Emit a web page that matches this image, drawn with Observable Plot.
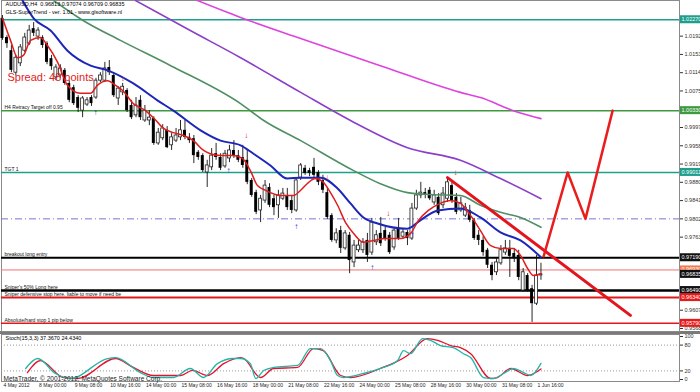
<!DOCTYPE html>
<html><head><meta charset="utf-8">
<script src="https://cdn.jsdelivr.net/npm/d3@7"></script>
<script src="https://cdn.jsdelivr.net/npm/@observablehq/plot@0.6"></script>
<style>
html,body{margin:0;padding:0;background:#fff;}
#wrap{width:700px;height:392px;overflow:hidden;position:relative;background:#fff;}
#main svg,#stoch svg{display:block;}
#stoch{border-top:3px solid #7a7a7a;}
</style></head><body>
<div id="wrap"><div id="main"></div><div id="stoch"></div></div>
<script>
// ---- candles (bar index = position in array; H4 bars from 4 May 2012 16:00) ----
const opens = [1.0230,1.0189,1.0161,1.0114,1.0134,1.0161,1.0176,1.0208,1.0191,1.0189,
1.0176,1.0144,1.0104,1.0108,1.0119,1.0091,1.0082,1.0061,1.0033,1.0046,
1.0061,1.0061,1.0097,1.0097,1.0125,1.0108,1.0059,1.0072,1.0076,1.0044,
1.0023,1.0055,1.0012,1.0012,1.0016,0.9963,0.9974,0.9991,0.9959,0.9969,
0.9976,0.9991,0.9976,0.9973,0.9944,0.9937,0.9901,0.9912,0.9941,0.9933,
0.9914,0.9931,0.9948,0.9937,0.9933,0.9927,0.9884,0.9858,0.9820,0.9841,
0.9869,0.9845,0.9831,0.9845,0.9852,0.9841,0.9820,0.9890,0.9910,0.9905,
0.9912,0.9901,0.9884,0.9858,0.9809,0.9756,0.9777,0.9739,0.9767,0.9709,
0.9735,0.9735,0.9756,0.9730,0.9752,0.9771,0.9777,0.9767,0.9741,0.9781,
0.9764,0.9773,0.9760,0.9824,0.9852,0.9858,0.9863,0.9837,0.9848,0.9831,
0.9845,0.9873,0.9848,0.9820,0.9809,0.9820,0.9799,0.9767,0.9756,0.9735,
0.9703,0.9688,0.9707,0.9730,0.9739,0.9728,0.9724,0.9649,0.9681,0.9653,
0.9621,0.96813];
const closes = [1.0187,1.0176,1.0119,1.0146,1.0168,1.0189,1.0204,1.0198,1.0204,1.0172,
1.0136,1.0127,1.0125,1.0123,1.0091,1.0055,1.0048,1.0038,1.0059,1.0055,
1.0048,1.0097,1.0108,1.0123,1.0114,1.0065,1.0080,1.0084,1.0033,1.0018,
1.0044,1.0018,1.0033,1.0018,0.9963,0.9986,0.9995,0.9954,0.9976,0.9980,
0.9991,0.9976,0.9969,0.9937,0.9933,0.9905,0.9916,0.9937,0.9933,0.9910,
0.9941,0.9948,0.9937,0.9927,0.9916,0.9880,0.9852,0.9816,0.9845,0.9873,
0.9831,0.9826,0.9852,0.9856,0.9826,0.9820,0.9884,0.9916,0.9899,0.9899,
0.9895,0.9880,0.9863,0.9805,0.9756,0.9771,0.9739,0.9771,0.9713,0.9745,
0.9745,0.9752,0.9724,0.9794,0.9767,0.9749,0.9760,0.9730,0.9777,0.9760,
0.9773,0.9760,0.9824,0.9852,0.9858,0.9852,0.9845,0.9852,0.9813,0.9856,
0.9880,0.9841,0.9816,0.9835,0.9826,0.9799,0.9760,0.9756,0.9730,0.9703,
0.9681,0.9709,0.9735,0.9739,0.9722,0.9717,0.9677,0.9688,0.9649,0.9621,
0.9681,0.96835];
const highs = [1.0236,1.0193,1.0172,1.0151,1.0174,1.0198,1.0215,1.0221,1.0210,1.0193,
1.0180,1.0151,1.0131,1.0131,1.0123,1.0097,1.0087,1.0065,1.0063,1.0061,
1.0065,1.0102,1.0114,1.0136,1.0140,1.0112,1.0084,1.0091,1.0080,1.0055,
1.0061,1.0065,1.0044,1.0033,1.0020,0.9995,1.0003,0.9999,0.9984,0.9995,
1.0012,1.0012,0.9984,0.9980,0.9948,0.9941,0.9927,0.9952,0.9963,0.9941,
0.9948,0.9959,0.9969,0.9948,0.9959,0.9948,0.9888,0.9863,0.9852,0.9884,
0.9877,0.9852,0.9863,0.9867,0.9867,0.9852,0.9888,0.9920,0.9916,0.9910,
0.9931,0.9905,0.9895,0.9867,0.9813,0.9781,0.9786,0.9777,0.9773,0.9756,
0.9756,0.9760,0.9771,0.9803,0.9777,0.9805,0.9784,0.9773,0.9781,0.9803,
0.9781,0.9777,0.9835,0.9863,0.9880,0.9867,0.9869,0.9863,0.9856,0.9869,
0.9888,0.9884,0.9856,0.9848,0.9835,0.9831,0.9803,0.9777,0.9764,0.9739,
0.9709,0.9717,0.9745,0.9756,0.9756,0.9739,0.9735,0.9696,0.9685,0.9660,
0.9724,0.97074];
const lows = [1.0183,1.0166,1.0114,1.0108,1.0127,1.0157,1.0172,1.0191,1.0183,1.0166,
1.0131,1.0119,1.0097,1.0102,1.0087,1.0050,1.0044,1.0029,1.0018,1.0042,
1.0042,1.0057,1.0093,1.0093,1.0108,1.0061,1.0044,1.0065,1.0029,1.0014,
1.0018,1.0012,1.0008,1.0001,0.9959,0.9959,0.9969,0.9952,0.9948,0.9965,
0.9969,0.9971,0.9963,0.9920,0.9927,0.9901,0.9869,0.9905,0.9927,0.9905,
0.9910,0.9922,0.9931,0.9922,0.9910,0.9875,0.9848,0.9811,0.9794,0.9835,
0.9826,0.9809,0.9803,0.9841,0.9820,0.9813,0.9816,0.9884,0.9895,0.9892,
0.9890,0.9873,0.9856,0.9801,0.9752,0.9749,0.9728,0.9735,0.9685,0.9698,
0.9730,0.9728,0.9709,0.9724,0.9745,0.9743,0.9754,0.9726,0.9735,0.9756,
0.9760,0.9745,0.9756,0.9820,0.9845,0.9845,0.9841,0.9831,0.9809,0.9824,
0.9837,0.9835,0.9811,0.9816,0.9805,0.9794,0.9756,0.9745,0.9722,0.9696,
0.9670,0.9681,0.9703,0.9724,0.9677,0.9709,0.9670,0.9645,0.9645,0.9581,
0.9617,0.96709];

// ---- moving averages, read as [bar, price] ----
const maRed = [[0,1.0230],[1.8,1.0183],[3.4,1.0146],[4.7,1.0151],[6.3,1.0183],[8.5,1.0189],[10.1,1.0172],[12.4,1.0136],[14.6,1.0087],[17.5,1.0070],[19.8,1.0070],[21.3,1.0087],[23.6,1.0097],[25.4,1.0087],[27,1.0076],[29.4,1.0048],[32.1,1.0033],[33.9,1.0018],[36.2,0.9995],[38.4,0.9986],[40.7,0.9980],[42.9,0.9969],[45.2,0.9948],[46.7,0.9941],[49,0.9937],[51.9,0.9937],[53.9,0.9931],[55.7,0.9905],[57.3,0.9873],[59.1,0.9863],[62.5,0.9852],[65.4,0.9852],[67,0.9863],[68.8,0.9880],[70.3,0.9888],[71.9,0.9882],[73.7,0.9858],[75.3,0.9831],[77.1,0.9794],[78.9,0.9771],[81.1,0.9752],[83.4,0.9756],[86.1,0.9760],[89.4,0.9760],[91.7,0.9771],[93.5,0.9799],[95.7,0.9820],[98.4,0.9835],[100.7,0.9841],[102.9,0.9835],[105.2,0.9809],[107.4,0.9777],[109.7,0.9745],[111.9,0.9739],[114.8,0.9739],[116.4,0.9724],[118,0.9696],[119.3,0.9681],[121,0.9685]];
const maBlue = [[4.5,1.0268],[7,1.0230],[10.8,1.0204],[14.6,1.0161],[19.8,1.0129],[23.6,1.0119],[29.4,1.0091],[34.8,1.0055],[38.4,1.0033],[44.5,0.9991],[49,0.9969],[53.5,0.9959],[56.4,0.9941],[60.2,0.9916],[64,0.9888],[67,0.9890],[71.5,0.9890],[75.3,0.9867],[78.2,0.9835],[81.1,0.9805],[84.3,0.9792],[91,0.9781],[93.9,0.9799],[97.8,0.9820],[102.9,0.9824],[107.4,0.9805],[111.9,0.9773],[116.4,0.9756],[121,0.9720]];
const maGreen = [[11.5,1.0268],[18.2,1.0225],[26.5,1.0183],[37.8,1.0129],[53.5,1.0048],[58.7,1.0012],[67,0.9969],[78.9,0.9905],[84.9,0.9877],[91,0.9858],[96.2,0.9854],[102.9,0.9852],[107.4,0.9831],[111.9,0.9816],[116.4,0.9805],[121,0.9784]];
const maPurple = [[29.9,1.0268],[42.2,1.0204],[53.5,1.0146],[67,1.0072],[78.2,1.0012],[91,0.9954],[102.9,0.9927],[111.9,0.9888],[121,0.9845]];
const maMagenta = [[43.8,1.0268],[53.5,1.0232],[67,1.0187],[84.9,1.0129],[102.9,1.0072],[107.4,1.0061],[114.8,1.0033],[121,1.0016]];

// ---- drawn objects ----
const trendLine = [[100,0.9890],[141.1,0.9596]];
const zigzag = [[121.6,0.9722],[127,0.99011],[131,0.9802],[137.1,1.0033]];
const sellArrows = [[27,1.0102],[54.8,0.9980],[73,0.9890],[86.7,0.9813],[101.8,0.9901]];
const buyArrows = [[20.9,1.0029],[50.8,0.9905],[66,0.9786],[83.1,0.9698],[92.1,0.9769]];

const levelPrices = [1.0227,1.0033,0.99011,0.9802,0.9719,0.9693,0.9649,0.9634,0.9579];
const levelNotes = ["","H4 Retracy Target off 0.95","TGT 1","","breakout long entry","","Sniper's 50% Long here","Sniper defensive stop here. liable to move if need be","Absolute/hard stop 1 pip below"];
const bidPrice = 0.96835;

const yTicks = [0.95680,0.96070,0.97630,0.98020,0.98410,0.98800,0.99190,0.99580,0.99970,1.00750,1.01140,1.01530,1.01920];

// ---- stochastic, [bar, value] ----
const stochMain = [[5.2,25.6],[7.9,48.8],[11.9,14],[15.3,2.3],[23.6,48.8],[25.4,51],[31,16],[33.9,4.6],[38.4,4.6],[42.2,25.6],[45.2,4.6],[48.3,37],[51.9,48.8],[53.5,48.8],[55.7,37],[56.9,2.3],[58.7,21],[60.9,28],[66.3,32.6],[69.2,72],[71.5,72],[73.7,44],[75.3,9.3],[76.6,4.6],[81.1,14],[85.6,28],[88.8,44],[90.1,67],[91.7,60],[94.4,95],[96.2,91],[98.4,79],[101.3,74],[103.6,60],[105.2,51],[108.1,4.6],[110.3,2.3],[112.6,14],[114.8,25.6],[117.1,16],[118.7,9.3],[121,37.4]];
const stochSignal = [[5.6,16],[8.5,44],[13.7,4.6],[16.9,2.3],[25.4,48.8],[29.4,28],[33.9,9.3],[40,9.3],[42.7,21],[46.1,9.3],[49.7,37],[53.5,51],[54.2,48.8],[58,4.6],[60.9,25.6],[66.3,28],[69.9,72],[72.1,67],[76,9.3],[78.2,4.6],[84.9,25.6],[91,56],[95.5,95],[97.8,91],[100.7,79],[102.9,74],[105.2,60],[109.7,2.3],[111.2,4.6],[114.2,25.6],[118,9.3],[121,24.4]];
const stochLevels = [20, 80];
const stochTicks = [0, 20, 80, 100];

const xLabelBars = [0,8,16,24,32,40,48,56,64,72,80,88,96,104,112,120];
const xLabels = ["4 May 2012","8 May 00:00","9 May 08:00","10 May 16:00","14 May 00:00","15 May 08:00","16 May 16:00","18 May 00:00","21 May 08:00","22 May 16:00","24 May 00:00","25 May 08:00","28 May 16:00","30 May 00:00","31 May 08:00","1 Jun 16:00"];

// ---------------------------------------------------------------
const font = "'Liberation Sans', Arial, sans-serif";
const xDomain = [-0.225, 152.13];
const bars = opens.map((o, i) => ({i, o, h: highs[i], l: lows[i], c: closes[i]}));
const upBars = bars.filter(d => d.c >= d.o);
const downBars = bars.filter(d => d.c < d.o);
const P = a => a.map(([x, y]) => ({x, y}));
const levelStyle = [
  {stroke:"#1f9e8e", w:1.5},
  {stroke:"#3f9a3f", w:1.5},
  {stroke:"#1f9e8e", w:1.5},
  {stroke:"#7474d4", w:1, dash:"7,3,1,3"},
  {stroke:"#000000", w:2.2},
  {stroke:"#f07070", w:1},
  {stroke:"#000000", w:2.5},
  {stroke:"#e01818", w:2},
  {stroke:"#e01818", w:1.5}
];
const levels = levelPrices.map((p, k) => ({p, note: levelNotes[k], ...levelStyle[k]}));

const lineOpts = (stroke, w) => ({x: "x", y: "y", stroke, strokeWidth: w, curve: "monotone-x", clip: true});

const main = Plot.plot({
  width: 700, height: 331,
  marginLeft: 1, marginRight: 21, marginTop: 0, marginBottom: 0,
  style: {fontFamily: font, fontSize: "5.5px", background: "#fff", overflow: "visible", color: "#333"},
  x: {domain: xDomain, axis: null},
  y: {domain: [0.95616, 1.02681], axis: "right", ticks: yTicks, tickFormat: d3.format(".5f"), tickSize: 3, tickPadding: 2, label: null},
  marks: [
    Plot.frame({stroke: "#8a8a8a"}),
    ...levels.map(L => Plot.ruleY([L.p], {stroke: L.stroke, strokeWidth: L.w, strokeDasharray: L.dash})),
    Plot.text(levels.filter(L => L.note), {y: "p", text: "note", frameAnchor: "left", textAnchor: "start", lineAnchor: "bottom", dx: 3, dy: -1.5, fontSize: 5, fill: "#111"}),
    Plot.ruleX(bars, {x: "i", y1: "l", y2: "h", stroke: "#111", strokeWidth: 0.9}),
    Plot.rect(downBars, {x1: d => d.i - 0.33, x2: d => d.i + 0.33, y1: "o", y2: "c", fill: "#000"}),
    Plot.rect(upBars, {x1: d => d.i - 0.33, x2: d => d.i + 0.33, y1: "o", y2: "c", fill: "#fff", stroke: "#222", strokeWidth: 0.8}),
    Plot.line(P(maMagenta), lineOpts("#dd44dd", 1.6)),
    Plot.line(P(maPurple), lineOpts("#8b3fc8", 1.6)),
    Plot.line(P(maGreen), lineOpts("#4f8f63", 1.6)),
    Plot.line(P(maBlue), lineOpts("#1c26b8", 2)),
    Plot.line(P(maRed), lineOpts("#e01c1c", 1.5)),
    Plot.line(P(trendLine), {x: "x", y: "y", stroke: "#e4141e", strokeWidth: 3}),
    Plot.line(P(zigzag), {x: "x", y: "y", stroke: "#ea1c1c", strokeWidth: 2.5}),
    Plot.text(P(sellArrows), {x: "x", y: "y", text: () => "↓", fill: "#e82020", fontSize: 8, fontWeight: "bold"}),
    Plot.text(P(buyArrows), {x: "x", y: "y", text: () => "↑", fill: "#2030d0", fontSize: 8, fontWeight: "bold"}),
    Plot.text(["AUDUSD,H4  0.96813 0.97074 0.96709 0.96835"], {frameAnchor: "top-left", dx: 4, dy: 2, lineAnchor: "top", textAnchor: "start", fontSize: 5.5, fill: "#000"}),
    Plot.text(["GLS-SuperTrend - ver. 1.01 - www.glsoftware.nl"], {frameAnchor: "top-left", dx: 4, dy: 10, lineAnchor: "top", textAnchor: "start", fontSize: 5.5, fill: "#000"}),
    Plot.text(["Spread: 48 points"], {frameAnchor: "top-left", dx: 6, dy: 73, lineAnchor: "top", textAnchor: "start", fontSize: 11, fill: "#e52222"})
  ]
});
document.getElementById("main").appendChild(main);

// coloured price boxes on the right axis, placed through the plot's own y scale
(function(){
  const s = main.scale("y");
  const yf = d3.scaleLinear(s.domain, s.range);
  const boxes = [
    {p: levelPrices[0], bg: "#1f9e8e"},
    {p: levelPrices[1], bg: "#3f9a3f"},
    {p: levelPrices[2], bg: "#1f9e8e"},
    {p: levelPrices[4], bg: "#111"},
    {p: levelPrices[5], bg: "#f07a50"},
    {p: bidPrice, bg: "#111"},
    {p: levelPrices[6], bg: "#111"},
    {p: levelPrices[7], bg: "#e61a1a"},
    {p: levelPrices[8], bg: "#e61a1a"}
  ];
  const g = d3.select(main).append("g").attr("font-family", font).attr("font-size", 5.5).attr("text-anchor", "start");
  const fmt = d3.format(".5f");
  boxes.forEach(b => {
    const y = yf(b.p);
    g.append("rect").attr("x", 680).attr("y", y - 4).attr("width", 22).attr("height", 8).attr("fill", b.bg);
    g.append("text").attr("x", 681.5).attr("y", y).attr("dy", "0.35em").attr("text-anchor", "start").attr("fill", "#fff").text(fmt(b.p));
  });
})();

const stoch = Plot.plot({
  width: 700, height: 58,
  marginLeft: 1, marginRight: 21, marginTop: 0, marginBottom: 11,
  style: {fontFamily: font, fontSize: "5.5px", background: "#fff", overflow: "visible", color: "#333"},
  x: {domain: xDomain, axis: null},
  y: {domain: [-4.65, 104.65], axis: "right", ticks: stochTicks, tickSize: 3, tickPadding: 2, label: null},
  marks: [
    Plot.frame({stroke: "#8a8a8a"}),
    Plot.ruleY(stochLevels, {stroke: "#999", strokeDasharray: "1,2"}),
    Plot.line(P(stochSignal), {x: "x", y: "y", stroke: "#e8102a", strokeWidth: 1.3, curve: "monotone-x"}),
    Plot.line(P(stochMain), {x: "x", y: "y", stroke: "#22b4a6", strokeWidth: 1.3, curve: "monotone-x"}),
    Plot.text(["Stoch(15,3,3) 37.3670 24.4340"], {frameAnchor: "top-left", dx: 4, dy: 2, lineAnchor: "top", textAnchor: "start", fontSize: 5.5, fill: "#000"}),
    Plot.text(["MetaTrader, © 2001-2012, MetaQuotes Software Corp."], {frameAnchor: "bottom-left", dx: 2, dy: -1, lineAnchor: "bottom", textAnchor: "start", fontSize: 6.5, fill: "#222"}),
    Plot.text(xLabelBars.map((b, k) => ({b, t: xLabels[k]})), {x: "b", text: "t", frameAnchor: "bottom", lineAnchor: "top", textAnchor: "start", dx: 1, dy: 2, fontSize: 5, fill: "#222"})
  ]
});
document.getElementById("stoch").appendChild(stoch);
</script>
</body></html>
